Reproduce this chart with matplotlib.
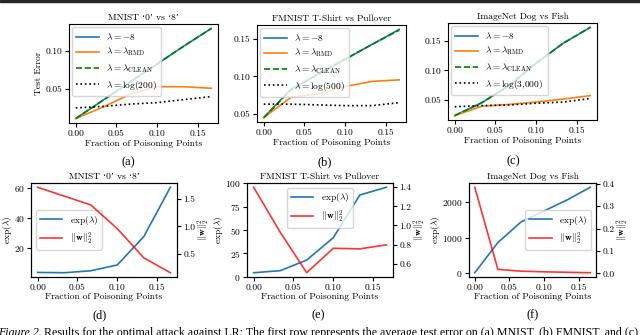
import numpy as np
import matplotlib.pyplot as plt
from matplotlib.patches import Rectangle

plt.rcParams['font.family'] = ['cmr10', 'Liberation Serif', 'DejaVu Serif']
plt.rcParams['mathtext.fontset'] = 'cm'
plt.rcParams['axes.formatter.use_mathtext'] = True
plt.rcParams['axes.unicode_minus'] = False

# fraction of poisoning points
frac = [0.0, 1/30, 2/30, 3/30, 4/30, 5/30]

# first row: test error
titles = ["MNIST \u20180\u2019 vs \u20188\u2019", "FMNIST T-Shirt vs Pullover", "ImageNet Dog vs Fish"]
log_labels = [r'$\lambda = \log(200)$', r'$\lambda = \log(500)$', r'$\lambda = \log(3{,}000)$']
err_neg8 = [[0.011, 0.035, 0.059, 0.083, 0.107, 0.130],
            [0.045, 0.083, 0.103, 0.123, 0.143, 0.163],
            [0.023, 0.045, 0.074, 0.112, 0.146, 0.173]]
err_rmd = [[0.011, 0.026, 0.043, 0.053, 0.053, 0.051],
           [0.045, 0.072, 0.077, 0.0865, 0.0935, 0.0955],
           [0.023, 0.039, 0.042, 0.046, 0.051, 0.057]]
err_clean = [[0.011, 0.035, 0.059, 0.083, 0.107, 0.130],
             [0.045, 0.082, 0.103, 0.123, 0.143, 0.162],
             [0.023, 0.045, 0.074, 0.112, 0.146, 0.173]]
err_log = [[0.025, 0.027, 0.030, 0.032, 0.036, 0.040],
           [0.063, 0.063, 0.062, 0.061, 0.061, 0.065],
           [0.038, 0.040, 0.041, 0.044, 0.046, 0.052]]
err_yticks = [[0.05, 0.10], [0.05, 0.10, 0.15], [0.05, 0.10, 0.15]]

# second row: exp(lambda) and ||w||^2
exp_lam = [[3.5, 3.3, 4.6, 8.5, 27.5, 60.5],
           [4.3, 6.5, 17.9, 41.8, 87.6, 95.9],
           [5, 858, 1442, 1755, 2067, 2425]]
w_norm = [[1.71, 1.55, 1.39, 0.96, 0.43, 0.16],
          [1.40, 0.93, 0.505, 0.761, 0.755, 0.797],
          [0.385, 0.018, 0.010, 0.007, 0.005, 0.003]]
exp_yticks = [[20, 40, 60], [0, 25, 50, 75, 100], [0, 1000, 2000]]
w_yticks = [[0.5, 1.0, 1.5], [0.6, 0.8, 1.0, 1.2, 1.4], [0.0, 0.1, 0.2, 0.3, 0.4]]
legend_locs = ['center left', 'upper center', 'center right']

W, H = 640, 335
fig = plt.figure(figsize=(6.4, 3.35), dpi=100)

def box(l, t, w, h):
    return [l / W, 1 - (t + h) / H, w / W, h / H]

top_boxes = [box(69, 24, 149, 99), box(257, 25, 149, 97), box(448, 23, 149, 97)]
bot_boxes = [box(31, 183, 146, 94), box(247, 183, 146, 94), box(469, 183, 127, 94)]

xt = [0, 0.05, 0.10, 0.15]
xtl = ['0.00', '0.05', '0.10', '0.15']
fs = 6.8
for i in range(3):
    ax = fig.add_axes(top_boxes[i])
    ax.plot(frac, err_neg8[i], color='tab:blue', lw=1.2, label=r'$\lambda = -8$')
    ax.plot(frac, err_rmd[i], color='tab:orange', lw=1.2, label=r'$\lambda = \lambda_{\mathrm{RMD}}$')
    ax.plot(frac, err_clean[i], color='green', lw=1.2, ls='--', label=r'$\lambda = \lambda_{\mathrm{CLEAN}}$')
    ax.plot(frac, err_log[i], color='black', lw=1.2, ls=':', label=log_labels[i])
    ax.set_title(titles[i], fontsize=fs, pad=3)
    ax.set_xlabel('Fraction of Poisoning Points', fontsize=fs, labelpad=1)
    ax.set_xticks(xt)
    ax.set_xticklabels(xtl)
    ax.set_yticks(err_yticks[i])
    ax.set_yticklabels(['%.2f' % v for v in err_yticks[i]])
    ax.tick_params(labelsize=fs, length=3, pad=2)
    if i == 0:
        ax.set_ylabel('Test Error', fontsize=fs, labelpad=2)
    ax.legend(loc='upper left', fontsize=fs, handlelength=2.4, borderaxespad=0.3,
              labelspacing=0.4, borderpad=0.45)

for i in range(3):
    ax = fig.add_axes(bot_boxes[i])
    ax2 = ax.twinx()
    l1, = ax.plot(frac, exp_lam[i], color='tab:blue', lw=1.2, label=r'$\exp(\lambda)$')
    l2, = ax2.plot(frac, w_norm[i], color='red', lw=1.2, alpha=0.8, label=r'$||\mathbf{w}||_2^2$')
    ax.set_title(titles[i], fontsize=fs, pad=3)
    ax.set_xlabel('Fraction of Poisoning Points', fontsize=fs, labelpad=1)
    ax.set_ylabel(r'$\exp(\lambda)$', fontsize=fs, labelpad=0)
    ax2.set_ylabel(r'$||\mathbf{w}||_2^2$', fontsize=fs, labelpad=0)
    ax.set_xticks(xt)
    ax.set_xticklabels(xtl)
    ax.set_yticks(exp_yticks[i])
    ax2.set_yticks(w_yticks[i])
    ax2.set_yticklabels(['%.1f' % v for v in w_yticks[i]])
    ax.tick_params(labelsize=fs, length=3, pad=1.5)
    ax2.tick_params(labelsize=fs, length=3, pad=1.5)
    ax.legend([l1, l2], [l1.get_label(), l2.get_label()], loc=legend_locs[i],
              fontsize=fs, handlelength=2.4, borderaxespad=0.5, labelspacing=0.4)

# panel letters
letters = ['(a)', '(b)', '(c)', '(d)', '(e)', '(f)']
letter_pos = [(128, 162), (325, 162), (513, 161), (100, 315), (318, 315), (533, 315)]
for s, (x, y) in zip(letters, letter_pos):
    fig.text(x / W, 1 - y / H, s, ha='center', va='center', fontsize=9,
             family='Liberation Serif')

# caption (cut at bottom edge)
fig.text(-0.003, 1 - 327 / H, 'Figure 2.', ha='left', va='top', fontsize=8.6,
         family='Liberation Serif', style='italic')
fig.text(0.069, 1 - 327 / H,
         'Results for the optimal attack against LR: The first row represents the average test error on (a) MNIST, (b) FMNIST, and (c)',
         ha='left', va='top', fontsize=8.6, family='Liberation Serif')

# dark strip at the top
fig.patches.append(Rectangle((0, 1 - 2 / H), 1, 2 / H, transform=fig.transFigure,
                             color='#262626', zorder=10))

fig.savefig('out.png', dpi=100)
